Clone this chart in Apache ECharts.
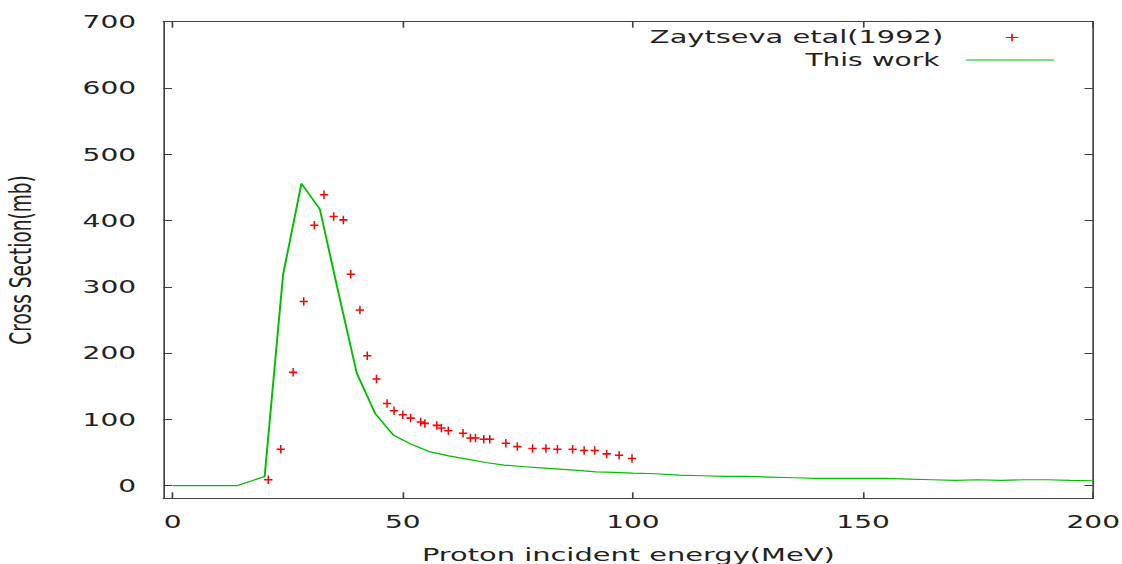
<!DOCTYPE html>
<html>
<head>
<meta charset="utf-8">
<script src="https://cdn.jsdelivr.net/npm/echarts@6/dist/echarts.min.js"></script>
<style>
html, body { margin: 0; padding: 0; background: #fff; overflow: hidden; width: 1122px; height: 564px; }
#chart { width: 680px; height: 564px; transform: scaleX(1.65); transform-origin: 0 0; }
</style>
</head>
<body>
<div id="chart"></div>
<script>
// Experimental data: Zaytseva et al (1992)
var expEnergy = [20.8, 23.5, 26.2, 28.5, 30.8, 32.9, 35.0, 37.1, 38.7, 40.7, 42.3, 44.3, 46.6, 48.1, 50.0, 51.7, 53.9, 54.8, 57.4, 58.4, 59.9, 63.1, 64.7, 65.8, 67.6, 68.9, 72.4, 74.9, 78.2, 81.1, 83.6, 86.9, 89.4, 91.7, 94.3, 97.0, 99.8];
var expSigma  = [9, 55, 171, 278, 393, 439, 406, 401, 319, 265, 196, 161, 124, 113, 107, 102, 96, 94, 91, 87, 83, 79, 72, 72, 70, 70, 64, 59, 56, 56, 55, 55, 53, 53, 48, 46, 41];
// Calculation: This work
var calcEnergy = [0, 14, 20, 24, 28, 32, 36, 40, 44, 48, 52, 56, 60, 64, 68, 72, 76, 80, 84, 88, 92, 96, 100, 105, 110, 115, 120, 125, 130, 135, 140, 145, 150, 155, 160, 165, 170, 175, 180, 185, 190, 195, 200];
var calcSigma  = [0, 0, 14, 318, 456, 417, 292, 170, 109, 76, 62, 51, 45, 40, 35, 31, 29, 27, 25, 23, 21, 20, 19, 18, 16, 15, 14, 14, 13, 12, 11, 11, 11, 11, 10, 9, 8, 9, 8, 9, 9, 8, 7.5];
// Axis ticks
var xTicks = [0, 50, 100, 150, 200];
var yTicks = [0, 100, 200, 300, 400, 500, 600, 700];
var seriesNames = ['Zaytseva etal(1992)', 'This work'];
var xTitle = 'Proton incident energy(MeV)';
var yTitle = 'Cross Section(mb)';

var expData = expEnergy.map(function (e, i) { return [e, expSigma[i]]; });
var calcData = calcEnergy.map(function (e, i) { return [e, calcSigma[i]]; });

var FONT = 'DejaVu Sans';
var TXT = '#222';
var AX = '#404040';
var plusPath = 'path://M0,5L10,5M5,0L5,10';

function xAxisDef(pos, showLabel) {
  return {
    type: 'value', position: pos, min: -2, max: 200,
    name: showLabel ? xTitle : '', nameLocation: 'middle', nameGap: 47.5,
    nameTextStyle: { fontFamily: FONT, fontSize: 17.5, color: TXT },
    axisLine: { show: true, onZero: false, lineStyle: { color: AX, width: 1 } },
    axisTick: { show: true, inside: true, length: 6, customValues: xTicks, lineStyle: { color: AX, width: 1 } },
    axisLabel: { show: showLabel, customValues: xTicks, margin: 15, fontFamily: FONT, fontSize: 17, color: TXT },
    splitLine: { show: false }
  };
}
function yAxisDef(pos, showLabel) {
  return {
    type: 'value', position: pos, min: -19, max: 700,
    name: showLabel ? yTitle : '', nameLocation: 'middle', nameGap: 77, nameRotate: 90,
    nameTextStyle: { fontFamily: FONT, fontSize: 18.5, color: TXT },
    axisLine: { show: true, onZero: false, lineStyle: { color: AX, width: 1 } },
    axisTick: { show: true, inside: true, length: 5.3, customValues: yTicks, lineStyle: { color: AX, width: 1 } },
    axisLabel: { show: showLabel, customValues: yTicks, margin: 16.5, fontFamily: FONT, fontSize: 17, color: TXT },
    splitLine: { show: false }
  };
}

var chart = echarts.init(document.getElementById('chart'), null, { renderer: 'svg' });
chart.setOption({
  animation: false,
  backgroundColor: '#fff',
  grid: { left: 99, right: 17.4, top: 21.7, bottom: 65.7, containLabel: false, outerBoundsMode: 'none' },
  xAxis: [xAxisDef('bottom', true), xAxisDef('top', false)],
  yAxis: [yAxisDef('left', true), yAxisDef('right', false)],
  legend: [
    {
      data: [{ name: seriesNames[0], icon: plusPath }],
      right: 62.4, top: 28.5, padding: 0, align: 'right', orient: 'vertical',
      itemWidth: 53.5, itemHeight: 7.5,
      itemStyle: { borderWidth: 1 },
      textStyle: { fontFamily: FONT, fontSize: 17.5, color: TXT, padding: [0, 10, 0, 0] },
      selectedMode: false
    },
    {
      data: [seriesNames[1]],
      right: 40.6, top: 51.5, padding: 0, align: 'right', orient: 'vertical',
      itemWidth: 53.5, itemHeight: 8,
      itemStyle: { opacity: 0 },
      lineStyle: { color: '#00c000', width: 1, opacity: 1 },
      textStyle: { fontFamily: FONT, fontSize: 17, color: TXT, padding: [0, 11, 0, 0] },
      selectedMode: false
    }
  ],
  series: [
    {
      name: seriesNames[0], type: 'scatter', data: expData,
      xAxisIndex: 0, yAxisIndex: 0,
      symbol: plusPath, symbolSize: [5, 8.5],
      itemStyle: { color: 'rgba(0,0,0,0)', borderColor: '#ff0000', borderWidth: 1.2, opacity: 1 }
    },
    {
      name: seriesNames[1], type: 'line', data: calcData,
      xAxisIndex: 0, yAxisIndex: 0,
      showSymbol: false, symbol: 'none',
      lineStyle: { color: '#00c000', width: 1.2 },
      itemStyle: { color: '#00c000' }
    }
  ]
});
</script>
</body>
</html>
